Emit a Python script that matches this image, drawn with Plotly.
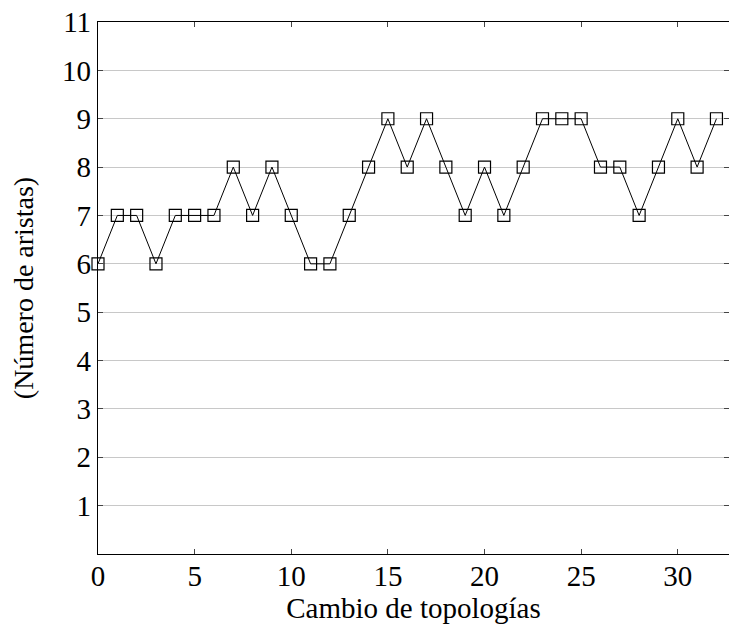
import plotly.graph_objects as go

x_vals = list(range(0, 33))
y_vals = [6, 7, 7, 6, 7, 7, 7, 8, 7, 8, 7, 6, 6, 7, 8, 9, 8, 9, 8, 7, 8, 7, 8,
          9, 9, 9, 8, 8, 7, 8, 9, 8, 9]
x_ticks = [0, 5, 10, 15, 20, 25, 30]
y_ticks = [1, 2, 3, 4, 5, 6, 7, 8, 9, 10, 11]

fig = go.Figure()
fig.add_trace(go.Scatter(
    x=x_vals, y=y_vals, mode="lines+markers",
    line=dict(color="black", width=1),
    marker=dict(symbol="square-open", size=12, color="black", line=dict(width=1.2)),
    showlegend=False,
    cliponaxis=False,
))

SERIF = "Liberation Serif"
xtitle_font = dict(family=SERIF, size=29, color="black")
ytitle_font = dict(family=SERIF, size=28, color="black")
tfont = dict(family=SERIF, size=29, color="black")

fig.update_layout(
    width=729, height=634,
    margin=dict(l=98, r=0, t=22, b=80),
    paper_bgcolor="white", plot_bgcolor="white",
    font=dict(family=SERIF, size=24, color="black"),
    xaxis=dict(
        range=[0, 32.65], tickvals=x_ticks, ticks="inside", ticklen=5,
        tickcolor="#444", showline=True, linecolor="black", linewidth=1.2,
        mirror="ticks", showgrid=False, zeroline=False,
        title=dict(text="Cambio de topologías", standoff=2, font=xtitle_font),
        tickfont=tfont, ticklabelstandoff=-4,
    ),
    yaxis=dict(
        range=[0, 11], tickvals=y_ticks, ticks="inside", ticklen=5,
        tickcolor="#444", showline=True, linecolor="black", linewidth=1.2,
        mirror="ticks", showgrid=True, gridcolor="#c8c8c8", gridwidth=1,
        zeroline=False,
        title=dict(text="(Número de aristas)", standoff=20, font=ytitle_font),
        tickfont=tfont,
    ),
)

fig.write_html("out.html")
